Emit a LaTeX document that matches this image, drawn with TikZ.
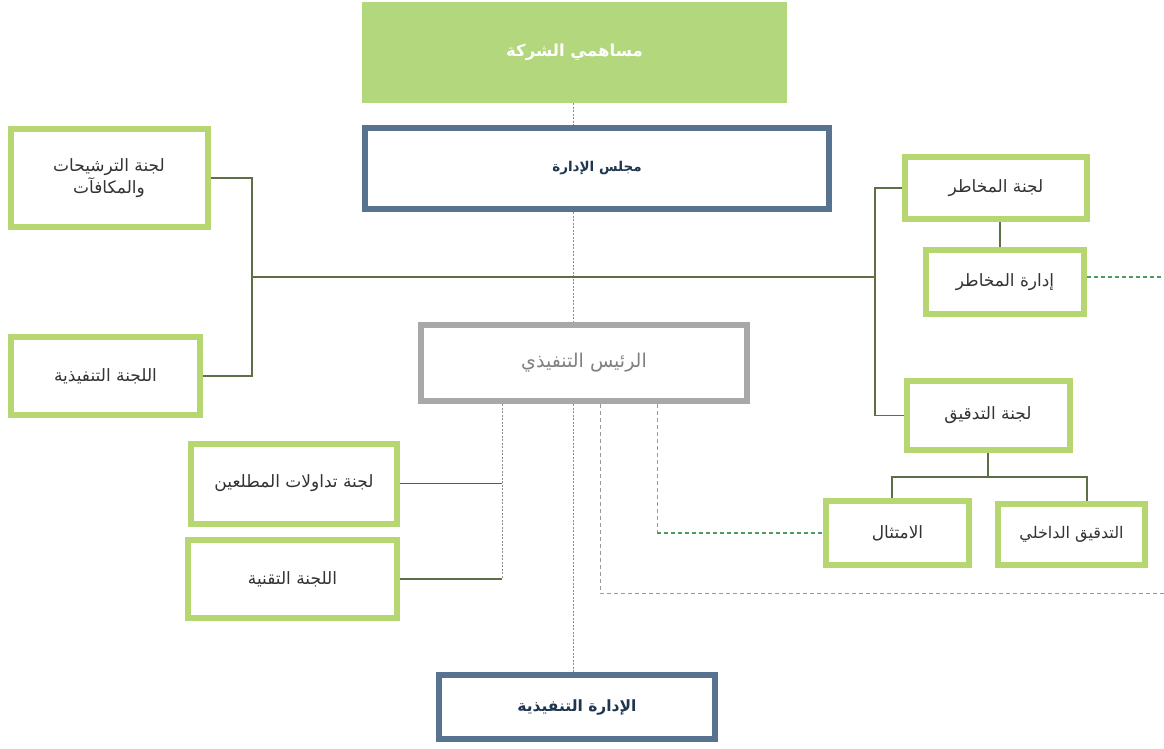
\documentclass[tikz,border=0pt]{standalone}
\usepackage{fontspec}
\newfontfamily\arabicfont[Script=Arabic]{DejaVu Sans}
\TeXXeTstate=1
\definecolor{greenbox}{HTML}{B5D670}
\definecolor{greenfill}{HTML}{B3D77D}
\definecolor{bluebox}{HTML}{587390}
\definecolor{graybox}{HTML}{A8A8A8}
\definecolor{connc}{HTML}{5E6E45}
\definecolor{tealc}{HTML}{3F6470}
\definecolor{navytext}{HTML}{1F3550}
\definecolor{dashgreenc}{HTML}{4E9A5E}
\begin{document}
\begin{tikzpicture}[x=1pt,y=-1pt,
  every node/.style={font=\arabicfont\fontsize{17}{22}\selectfont, align=center, inner sep=0pt},
  gbox/.style={draw=greenbox, line width=6pt, outer sep=3pt, fill=white, text=black!80},
  bbox/.style={draw=bluebox, line width=6pt, outer sep=3pt, fill=white, text=navytext},
  cbox/.style={draw=graybox, line width=6pt, outer sep=3pt, fill=white, text=black!50},
  conn/.style={draw=connc, line width=1.3pt},
  tconn/.style={draw=tealc, line width=1.8pt},
  dotline/.style={draw=black!45, line width=0.7pt, dash pattern=on 2pt off 1.5pt},
  dashgray/.style={draw=black!40, line width=1pt, dash pattern=on 4pt off 3pt},
  dashgreen/.style={draw=dashgreenc, line width=1.3pt, dash pattern=on 4pt off 3pt}
]
\useasboundingbox (0,0) rectangle (1164,749);
\fill[white] (0,0) rectangle (1164,749);

% nodes
\node[fill=greenfill, minimum width=425pt, minimum height=101pt, text=white, font=\arabicfont\bfseries\fontsize{16.5}{20}\selectfont] (sh) at (574.5,52.5) {\beginR مساهمي الشركة\endR};
\node[bbox, minimum width=464pt, minimum height=81pt, font=\arabicfont\bfseries\fontsize{13.5}{16}\selectfont] (board) at (597,168.5) {\beginR مجلس الإدارة\endR};
\node[gbox, minimum width=197pt, minimum height=97pt] (nom) at (109,178) {\beginR لجنة الترشيحات\endR\\\beginR والمكافآت\endR};
\node[gbox, minimum width=189pt, minimum height=78pt] (execc) at (105.5,376) {\beginR اللجنة التنفيذية\endR};
\node[gbox, minimum width=182pt, minimum height=62pt] (risk) at (996,188) {\beginR لجنة المخاطر\endR};
\node[gbox, minimum width=158pt, minimum height=64pt] (riskm) at (1005,282) {\beginR إدارة المخاطر\endR};
\node[gbox, minimum width=163pt, minimum height=69pt] (audit) at (988,415.5) {\beginR لجنة التدقيق\endR};
\node[cbox, minimum width=326pt, minimum height=76pt, font=\arabicfont\fontsize{19}{22}\selectfont] (ceo) at (584,363) {\beginR الرئيس التنفيذي\endR};
\node[gbox, minimum width=206pt, minimum height=80pt] (insider) at (294,483.5) {\beginR لجنة تداولات المطلعين\endR};
\node[gbox, minimum width=209pt, minimum height=78pt] (tech) at (292.5,579) {\beginR اللجنة التقنية\endR};
\node[gbox, minimum width=143pt, minimum height=64pt] (comp) at (897.5,533) {\beginR الامتثال\endR};
\node[gbox, minimum width=147pt, minimum height=61pt, font=\arabicfont\fontsize{16}{20}\selectfont] (intaud) at (1071.5,534.5) {\beginR التدقيق الداخلي\endR};
\node[bbox, minimum width=276pt, minimum height=64pt, font=\arabicfont\bfseries\fontsize{15.5}{18}\selectfont] (em) at (577,707) {\beginR الإدارة التنفيذية\endR};

% helper coordinates
\coordinate (vx) at (573,0);
\coordinate (lj) at (252,277);
\coordinate (rj) at (875,277);
\coordinate (cl) at (502,0);
\coordinate (c1) at (600,0);
\coordinate (c2) at (657,0);
\coordinate (at) at (988,477);
\coordinate (rend) at (1164,277);
\coordinate (rend2) at (1164,593);
\coordinate (rvx) at (1000,0);

% central dotted spine
\draw[dotline] (vx |- sh.south) -- (vx |- board.north);
\draw[dotline] (vx |- board.south) -- (vx |- ceo.north);
\draw[dotline] (vx |- ceo.south) -- (vx |- em.north);

% committees
\draw[conn] (nom.east) -| (lj |- execc.east) -- (execc.east);
\draw[conn] (lj) -- (rj);
\draw[conn] (risk.west) -| (rj |- audit.west) -- (audit.west);
\draw[conn] (rvx |- risk.south) -- (rvx |- riskm.north);
\draw[dashgreen] (riskm.east |- rend) -- (rend);
\draw[conn] (audit.south) -- (at);
\draw[conn] ([xshift=-5.5pt]comp.north) |- (at) -| ([xshift=15.5pt]intaud.north);

% CEO branches
\draw[dotline] (cl |- ceo.south) -- (cl |- tech.east);
\draw[tconn] (insider.east) -- (cl |- insider.east);
\draw[conn] (tech.east) -- (cl |- tech.east);
\draw[dashgray] (c1 |- ceo.south) |- (rend2);
\draw[dashgray] (c2 |- ceo.south) -- (c2 |- comp.west);
\draw[dashgreen] (c2 |- comp.west) -- (comp.west);
\end{tikzpicture}
\end{document}
